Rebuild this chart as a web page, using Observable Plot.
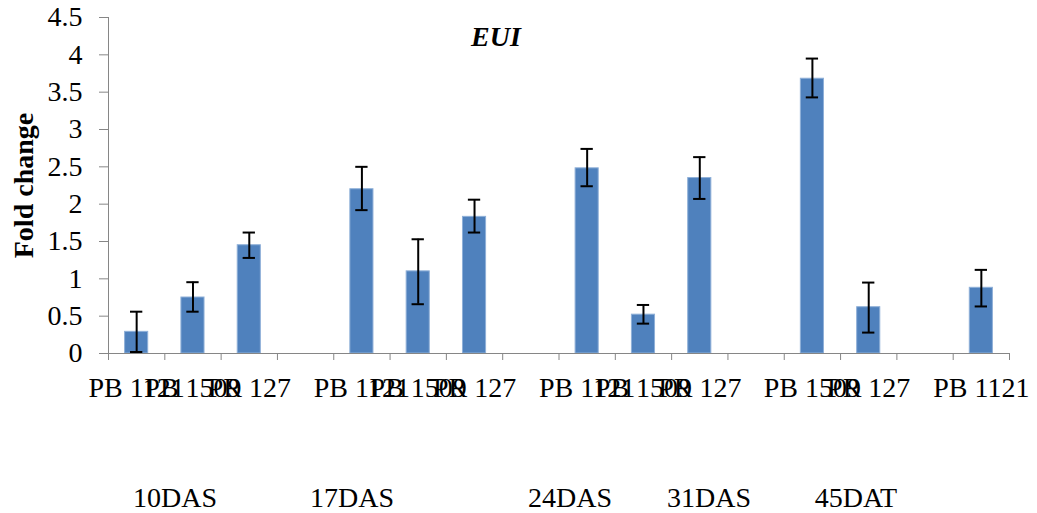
<!DOCTYPE html>
<html>
<head>
<meta charset="utf-8">
<script src="https://cdn.jsdelivr.net/npm/d3@7"></script>
<script src="https://cdn.jsdelivr.net/npm/@observablehq/plot@0.6"></script>
<style>
  body { margin: 0; background: #fff; }
  #wrap { position: relative; width: 1037px; height: 513px; font-family: "Liberation Serif", "Times New Roman", serif; }
  .ov { position: absolute; font-size: 28px; line-height: 28px; white-space: nowrap; transform: translateX(-50%); color: #000; }
  #title { left: 496px; top: 22.6px; font-weight: bold; font-style: italic; }
  .grp { top: 483.6px; }
</style>
</head>
<body>
<div id="wrap"></div>
<script>
// Category slots along the x axis (empty strings are the gaps between groups)
const slotLabels = ["PB 1121","PB 1509","PR 127","","PB 1121","PB 1509","PR 127","","PB 1121","PB 1509","PR 127","","PB 1509","PR 127","","PB 1121"];
// Fold change values per slot (null = no bar)
const foldChange = [0.29, 0.75, 1.45, null, 2.20, 1.10, 1.83, null, 2.48, 0.52, 2.35, null, 3.68, 0.62, null, 0.88];
// Error bar ends
const errLow  = [0.02, 0.56, 1.28, null, 1.92, 0.66, 1.62, null, 2.24, 0.40, 2.07, null, 3.43, 0.28, null, 0.63];
const errHigh = [0.56, 0.955, 1.62, null, 2.50, 1.53, 2.06, null, 2.74, 0.65, 2.63, null, 3.95, 0.95, null, 1.12];
// Y ticks
const yTicks = [0, 0.5, 1, 1.5, 2, 2.5, 3, 3.5, 4, 4.5];
// Title and group labels
const chartTitle = "EUI";
const yLabel = "Fold change";
const groupLabels = ["10DAS", "17DAS", "24DAS", "31DAS", "45DAT"];

const rows = slotLabels.map((label, i) => ({slot: i, label, value: foldChange[i], lo: errLow[i], hi: errHigh[i]}))
  .filter(d => d.value != null);

const axisGray = "#868686";
const blue = "#4F81BD";
const serif = "Liberation Serif, Times New Roman, serif";

const chart = Plot.plot({
  width: 1037,
  height: 513,
  marginTop: 17,
  marginBottom: 160,
  marginLeft: 108,
  marginRight: 28,
  style: {fontFamily: serif, fontSize: "28px", color: "#000", background: "#fff"},
  x: {type: "linear", domain: [0, slotLabels.length], label: null},
  y: {domain: [0, 4.5], label: null},
  marks: [
    Plot.rectY(rows, {x1: d => d.slot, x2: d => d.slot + 1, y: "value", fill: blue, stroke: "#8fb0d8", strokeWidth: 1, insetLeft: 16.6, insetRight: 16.6}),
    Plot.ruleX(rows, {x: d => d.slot + 0.5, y1: "lo", y2: "hi", stroke: "#000", strokeWidth: 2}),
    Plot.ruleY(rows, {x1: d => d.slot, x2: d => d.slot + 1, y: "lo", stroke: "#000", strokeWidth: 2, insetLeft: 22, insetRight: 22}),
    Plot.ruleY(rows, {x1: d => d.slot, x2: d => d.slot + 1, y: "hi", stroke: "#000", strokeWidth: 2, insetLeft: 22, insetRight: 22}),
    Plot.ruleY([0], {stroke: axisGray}),
    Plot.ruleX([0], {stroke: axisGray}),
    Plot.axisX({ticks: d3.range(0, slotLabels.length + 1), tickSize: 7, tickFormat: () => "", stroke: axisGray, label: null}),
    Plot.axisX({ticks: slotLabels.map((_, i) => i + 0.5), tickSize: 0, tickPadding: 24, tickFormat: d => slotLabels[Math.floor(d)], label: null, fill: "#000"}),
    Plot.axisY({ticks: yTicks, tickSize: 9, tickPadding: 17, tickFormat: d => String(d), stroke: axisGray, fill: "#000", label: null}),
    Plot.text([yLabel], {frameAnchor: "left", textAnchor: "middle", lineAnchor: "middle", dx: -84, rotate: -90, fontWeight: "bold", fontSize: 28, fontFamily: serif, fill: "#000"})
  ]
});

const wrap = document.getElementById("wrap");
wrap.appendChild(chart);

const t = document.createElement("div");
t.id = "title"; t.className = "ov"; t.textContent = chartTitle;
wrap.appendChild(t);

const groupLeft = [175, 352, 570, 709, 856];
groupLabels.forEach((g, i) => {
  const el = document.createElement("div");
  el.className = "ov grp";
  el.style.left = groupLeft[i] + "px";
  el.textContent = g;
  wrap.appendChild(el);
});
</script>
</body>
</html>
